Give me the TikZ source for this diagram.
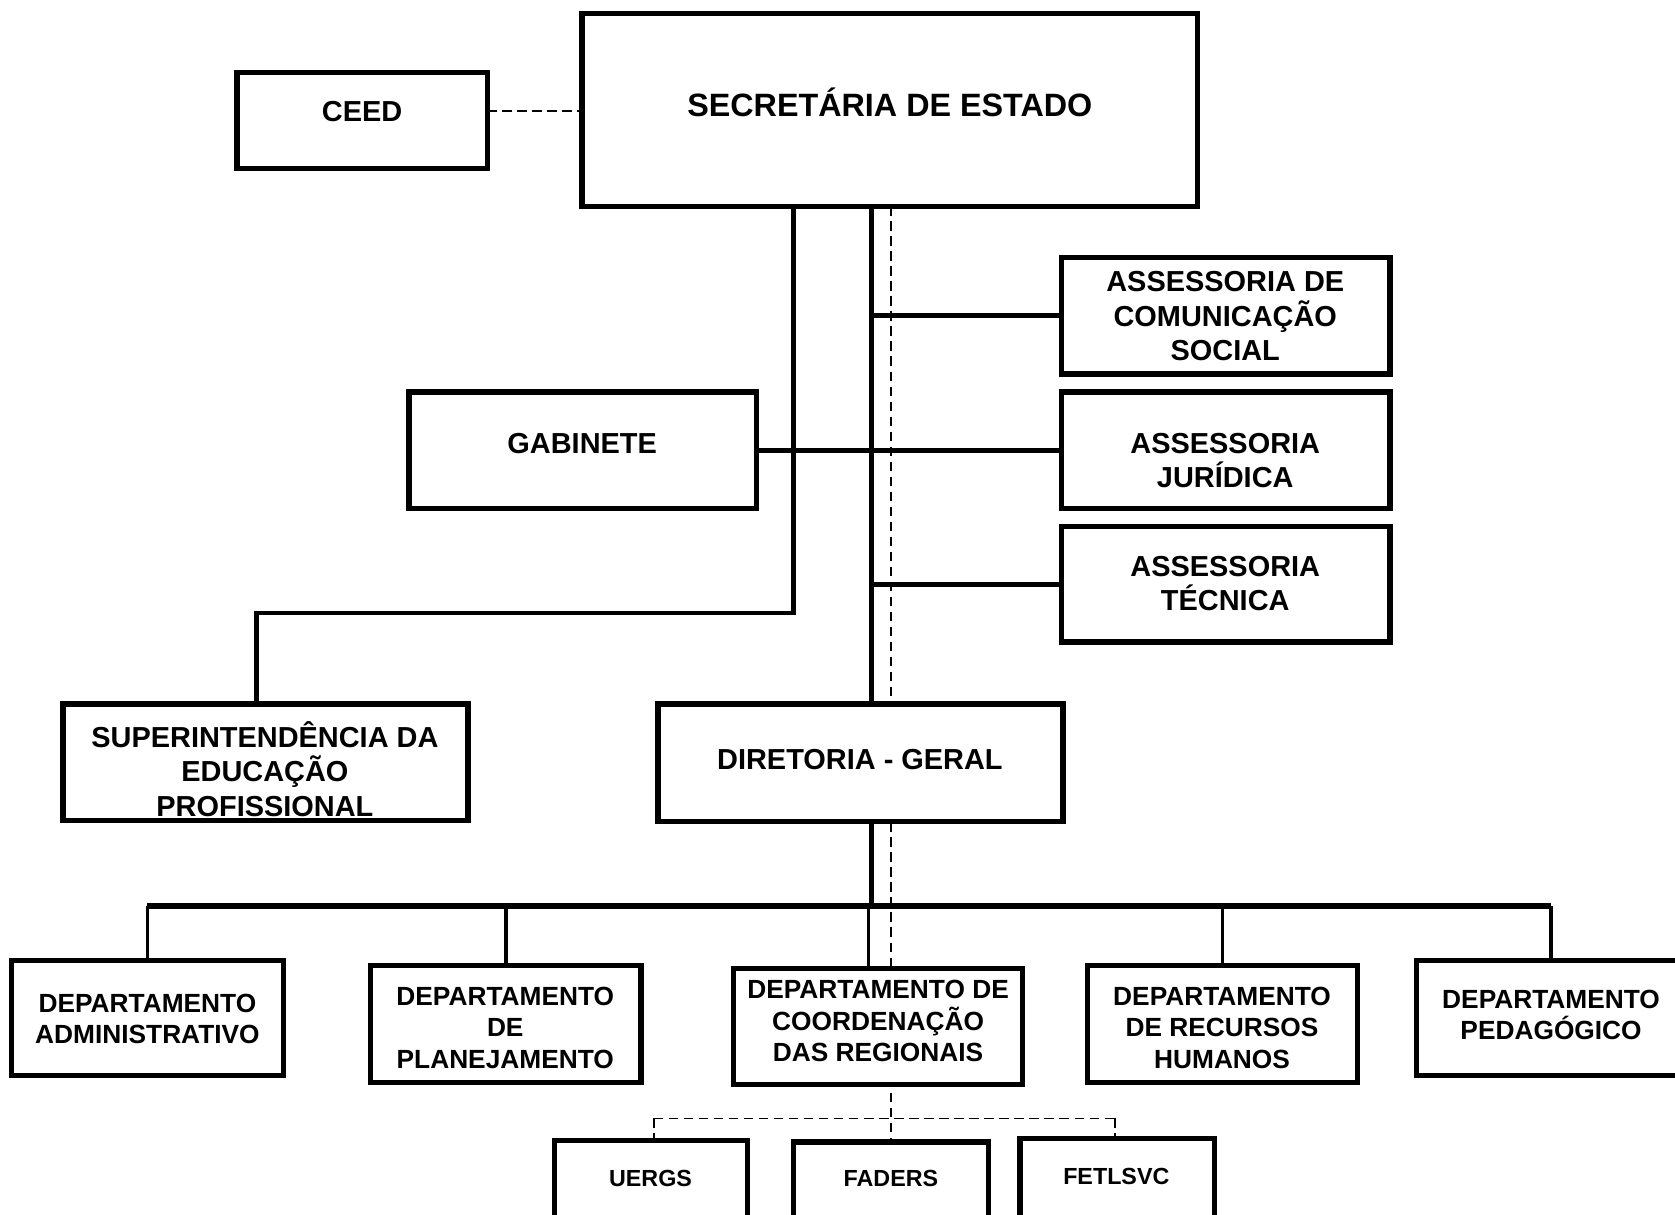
\documentclass[tikz,border=0pt]{standalone}
\usepackage{fontspec}
\setmainfont{Liberation Sans}
\usetikzlibrary{backgrounds}
\begin{document}
\begin{tikzpicture}[x=0.01cm,y=-0.01cm,
 box/.style={draw, line width=1.4pt, fill=white, inner sep=0pt, outer sep=0pt},
 lbl/.style={font=\fontsize{7.7}{9.1}\selectfont\bfseries, align=center, inner sep=0pt},
 biglbl/.style={font=\fontsize{8.6}{10}\selectfont\bfseries, align=center, inner sep=0pt},
 dlbl/.style={font=\fontsize{7}{8.4}\selectfont\bfseries, align=center, inner sep=0pt},
 slbl/.style={font=\fontsize{6.2}{7.4}\selectfont\bfseries, align=center, inner sep=0pt},
 conn/.style={line width=1.2pt},
 thinconn/.style={line width=0.9pt},
 dashline/.style={line width=0.4pt, dash pattern=on 2.5pt off 1.5pt}]
\useasboundingbox (0,0) rectangle (1568,1137);

% boxes
\node[box, minimum width=2.34cm, minimum height=0.90cm] (ceed) at (339,113) {};
\node[box, minimum width=5.76cm, minimum height=1.80cm] (sec) at (833,103) {};
\node[box, minimum width=3.07cm, minimum height=1.09cm] (acs) at (1147.5,295.5) {};
\node[box, minimum width=3.25cm, minimum height=1.09cm] (gab) at (545.5,421.5) {};
\node[box, minimum width=3.07cm, minimum height=1.09cm] (aj) at (1147.5,421.5) {};
\node[box, minimum width=3.07cm, minimum height=1.08cm] (at) at (1147.5,547) {};
\node[box, minimum width=3.79cm, minimum height=1.09cm] (sup) at (248.5,713.5) {};
\node[box, minimum width=3.79cm, minimum height=1.10cm] (dg) at (805.5,714) {};
\node[box, minimum width=2.54cm, minimum height=1.08cm] (dadm) at (138,953) {};
\node[box, minimum width=2.53cm, minimum height=1.09cm] (dplan) at (473.5,958.5) {};
\node[box, minimum width=2.70cm, minimum height=1.08cm] (dcr) at (822,961) {};
\node[box, minimum width=2.53cm, minimum height=1.09cm] (drh) at (1144.5,958.5) {};
\node[box, minimum width=2.52cm, minimum height=1.08cm] (dped) at (1452,953) {};
\node[box, minimum width=1.81cm, minimum height=0.80cm] (uergs) at (609.5,1108) {};
\node[box, minimum width=1.82cm, minimum height=0.80cm] (faders) at (834,1109) {};
\node[box, minimum width=1.82cm, minimum height=0.80cm] (fet) at (1046,1106) {};

% labels
\node[lbl] (ceedt) at (339,104) {CEED};
\node[biglbl] (sect) at (833,96) {SECRETÁRIA DE ESTADO};
\node[lbl] (acst) at (1147,296) {ASSESSORIA DE\\COMUNICAÇÃO\\SOCIAL};
\node[lbl] (gabt) at (545,415) {GABINETE};
\node[lbl] (ajt) at (1147,431) {ASSESSORIA\\JURÍDICA};
\node[lbl] (att) at (1147,546) {ASSESSORIA\\TÉCNICA};
\node[lbl] (supt) at (248,720) {SUPERINTENDÊNCIA DA\\EDUCAÇÃO\\PROFISSIONAL};
\node[lbl] (dgt) at (805,711) {DIRETORIA - GERAL};
\node[dlbl] (dadmt) at (138,954) {DEPARTAMENTO\\ADMINISTRATIVO};
\node[dlbl] (dplant) at (473,962) {DEPARTAMENTO\\DE\\PLANEJAMENTO};
\node[dlbl] (dcrt) at (822,956) {DEPARTAMENTO DE\\COORDENAÇÃO\\DAS REGIONAIS};
\node[dlbl] (drht) at (1144,962) {DEPARTAMENTO\\DE RECURSOS\\HUMANOS};
\node[dlbl] (dpedt) at (1452,950) {DEPARTAMENTO\\PEDAGÓGICO};
\node[slbl] (uergst) at (609,1103) {UERGS};
\node[slbl] (faderst) at (834,1103) {FADERS};
\node[slbl] (fett) at (1045,1101) {FETLSVC};

% junction coordinates
\coordinate (jL) at (743,574);
\coordinate (jS) at (240,574);
\coordinate (mv) at (816,300);
\coordinate (dv) at (834,300);
\coordinate (bar) at (816,848);
\coordinate (dcrj) at (813,848);
\coordinate (ul) at (612,1047);
\coordinate (fl) at (1044,1047);

\begin{pgfonlayer}{background}
\fill[white] (0,0) rectangle (1568,1137);
\draw[dashline] (ceedt -| ceed.east) -- (ceedt -| sec.west);
\draw[dashline] (dv |- sec.south) -- (dv |- faders.north);
\draw[dashline] (ul) -- (fl);
\draw[dashline] (ul) -- (ul |- uergs.north);
\draw[dashline] (fl) -- (fl |- fet.north);
\draw[conn] (jL |- sec.south) -- (jL) -- (jS) -- (jS |- sup.north);
\draw[conn] (mv |- sec.south) -- (mv |- dg.north);
\draw[conn] (mv |- acs.west) -- (acs.west);
\draw[conn] (mv |- at.west) -- (at.west);
\draw[conn] (gab.east) -- (aj.west);
\draw[conn] (mv |- dg.south) -- (bar);
\draw[line width=1.5pt] (dadm.north |- bar) -- (dped.north |- bar);
\draw[thinconn] (dadm.north |- bar) -- (dadm.north);
\draw[thinconn] (dplan.north |- bar) -- (dplan.north);
\draw[thinconn] (dcrj) -- (dcrj |- dcr.north);
\draw[thinconn] (drh.north |- bar) -- (drh.north);
\draw[thinconn] (dped.north |- bar) -- (dped.north);
\end{pgfonlayer}
\end{tikzpicture}
\end{document}
